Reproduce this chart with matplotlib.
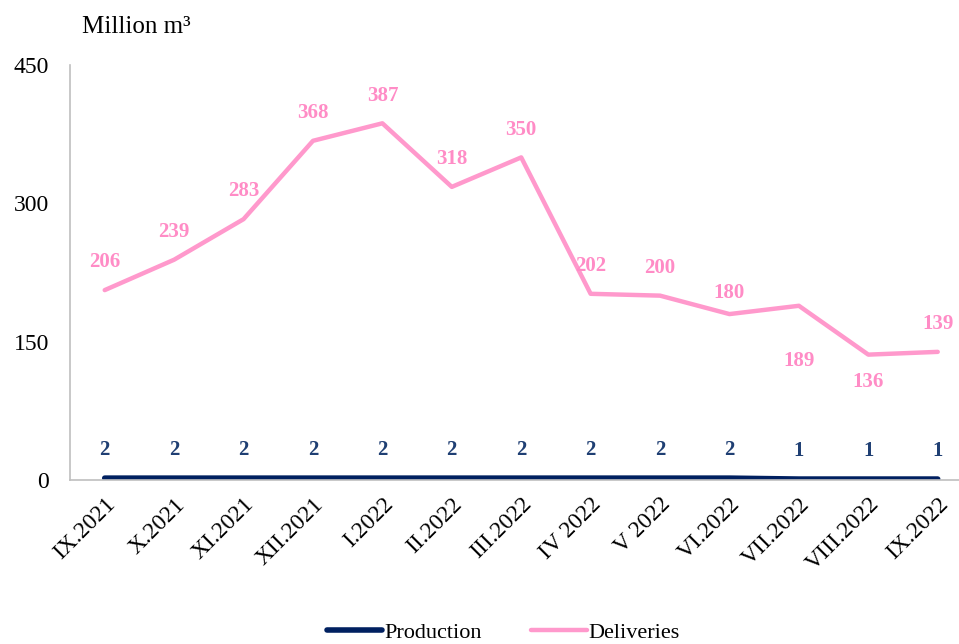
import matplotlib.pyplot as plt

months = ['IX.2021', 'X.2021', 'XI.2021', 'XII.2021', 'I.2022', 'II.2022',
          'III.2022', 'IV 2022', 'V 2022', 'VI.2022', 'VII.2022', 'VIII.2022',
          'IX.2022']
production = [2, 2, 2, 2, 2, 2, 2, 2, 2, 2, 1, 1, 1]
deliveries = [206, 239, 283, 368, 387, 318, 350, 202, 200, 180, 189, 136, 139]
# vertical offset (points) of delivery labels
lab_off = [20, 20, 20, 20, 20, 20, 20, 20, 20, 15, -40, -20, 20]

plt.rcParams['font.family'] = ['Liberation Serif', 'DejaVu Serif']

fig = plt.figure(figsize=(9.59, 6.44), dpi=100)
ax = fig.add_axes([0.073, 0.2547, 0.941, 0.644])

x = range(len(months))
pink = '#FF99CC'
navy = '#002060'

ax.plot(x, production, color=navy, lw=4, solid_capstyle='round', label='Production')
ax.plot(x, deliveries, color=pink, lw=3.2, solid_capstyle='round', label='Deliveries')

for i, v in enumerate(deliveries):
    ax.annotate(str(v), (i, v), xytext=(0, lab_off[i]), textcoords='offset points',
                ha='center', va='center', color='#FF8CC6', fontsize=15,
                fontweight='bold')
for i, v in enumerate(production):
    ax.annotate(str(v), (i, v), xytext=(0, 20), textcoords='offset points',
                ha='center', va='center', color='#1F3F73', fontsize=15,
                fontweight='bold')

ax.set_xlim(-0.5, 12.5)
ax.set_ylim(0, 450)
ax.set_yticks([0, 150, 300, 450])
ax.set_xticks(list(x))
ax.set_xticklabels(months, rotation=45, ha='right', rotation_mode='anchor')
ax.tick_params(length=0, labelsize=17, pad=10)
ax.tick_params(axis='y', pad=15)
for s in ['top', 'right']:
    ax.spines[s].set_visible(False)
for s in ['left', 'bottom']:
    ax.spines[s].set_color('#BFBFBF')
    ax.spines[s].set_linewidth(1.2)

fig.text(0.085, 0.958, 'Million m³', fontsize=18, va='center', ha='left')

fig.legend(loc='center', bbox_to_anchor=(0.525, 0.018), ncol=2, frameon=False,
           fontsize=16, handlelength=2.5, handletextpad=0.1, columnspacing=2.2)

fig.savefig('out.png', dpi=100)
